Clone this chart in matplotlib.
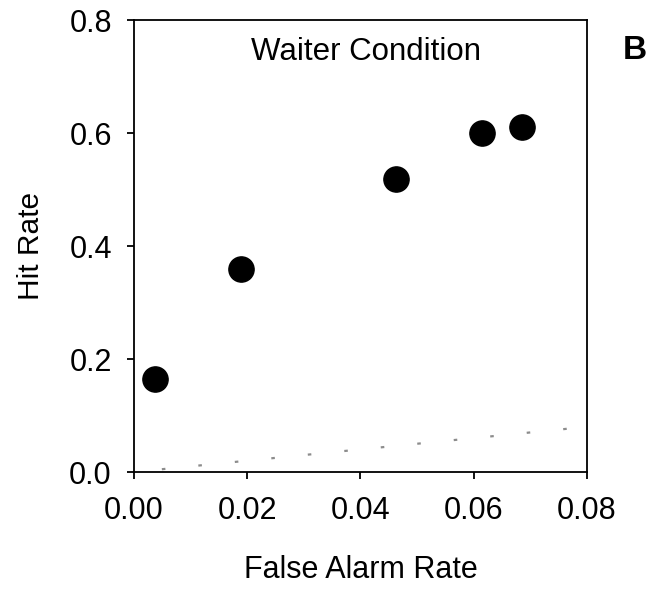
import numpy as np
import matplotlib.pyplot as plt

plt.rcParams['font.family'] = ['Liberation Sans', 'DejaVu Sans']

# observed points
fa_rate = [0.0037, 0.0189, 0.0463, 0.0615, 0.0685]
hit_rate = [0.165, 0.359, 0.519, 0.600, 0.611]

# chance line y = x
chance = [0.0, 1.0]

xticks = [0.00, 0.02, 0.04, 0.06, 0.08]
yticks = [0.0, 0.2, 0.4, 0.6, 0.8]

fig = plt.figure(figsize=(6.52, 5.9), dpi=100)
ax = fig.add_axes([0.2055, 0.2, 0.6945, 0.766])

ax.plot(chance, chance, color='#8c8c8c', linestyle=(3.9, (1.6, 14.9)), lw=1.6, zorder=1)
ax.scatter(fa_rate, hit_rate, s=330, color='black', zorder=3, clip_on=False)

ax.set_xlim(0, 0.08)
ax.set_ylim(0, 0.8)
ax.set_xticks(xticks)
ax.set_xticklabels([f'{v:.2f}' for v in xticks])
ax.set_yticks(yticks)
ax.set_yticklabels([f'{v:.1f}' for v in yticks])
ax.tick_params(direction='out', length=5, width=1.3, labelsize=22)
ax.tick_params(axis='x', pad=12)
ax.tick_params(axis='y', pad=11)
for sp in ax.spines.values():
    sp.set_linewidth(1.3)

ax.set_xlabel('False Alarm Rate', fontsize=22, labelpad=21)
ax.set_ylabel('Hit Rate', fontsize=21.5, labelpad=17.5)

ax.text(0.512, 0.9115, 'Waiter Condition', transform=ax.transAxes, ha='center',
        va='baseline', fontsize=22.5)
fig.text(0.974, 0.915, 'B', ha='center', va='center', fontsize=24, fontweight='bold')

plt.savefig('out.png', dpi=100)
